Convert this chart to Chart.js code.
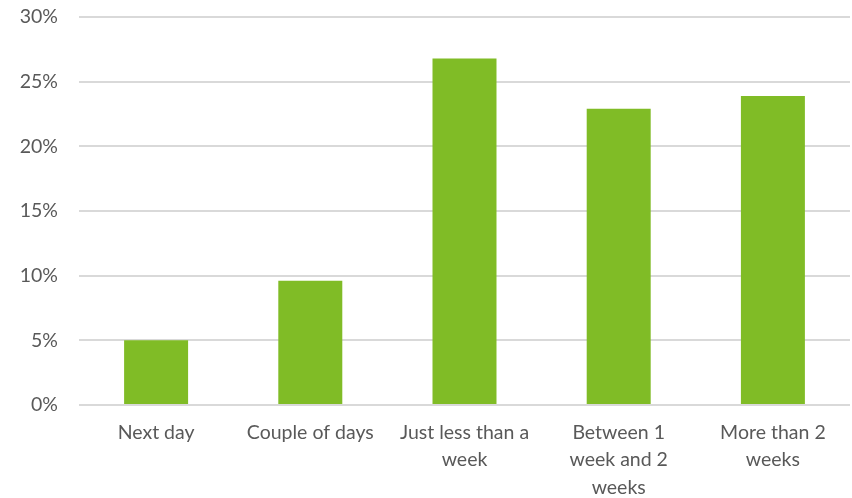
<!DOCTYPE html>
<html>
<head>
<meta charset="utf-8">
<script src="https://cdn.jsdelivr.net/npm/chart.js@4.4.1/dist/chart.umd.min.js"></script>
<style>
  html, body { margin: 0; padding: 0; background: #ffffff; }
  #wrap { width: 852px; height: 498px; }
</style>
</head>
<body>
<div id="wrap"><canvas id="grafico"></canvas></div>
<script>
// categorias e valores (%)
const categorias = [
    ["Next day"],
    ["Couple of days"],
    ["Just less than a", "week"],
    ["Between 1", "week and 2", "weeks"],
    ["More than 2", "weeks"]
];
const valores = [5.0, 9.6, 26.8, 22.9, 23.9];
const ticksY = [0, 5, 10, 15, 20, 25, 30];

const corTexto = "#595959";
const fonte = { family: "Lato, 'Open Sans', sans-serif", size: 19.5 };

new Chart(document.getElementById("grafico"), {
    type: "bar",
    data: {
        labels: categorias,
        datasets: [{
            data: valores,
            backgroundColor: "#80bc26",
            borderWidth: 0,
            categoryPercentage: 1,
            barPercentage: 0.415
        }]
    },
    options: {
        responsive: true,
        maintainAspectRatio: false,
        animation: false,
        layout: { padding: { top: 17, right: 2, left: 0, bottom: 0 } },
        plugins: {
            legend: { display: false },
            tooltip: { enabled: false }
        },
        scales: {
            x: {
                grid: { display: false, drawTicks: false },
                border: { display: false },
                ticks: {
                    color: corTexto,
                    font: { ...fonte, lineHeight: 1.4 },
                    maxRotation: 0,
                    padding: 14
                },
                afterFit: function (s) {
                    s.height = 93;
                    s.paddingLeft = 0;
                    s.paddingRight = 0;
                }
            },
            y: {
                min: 0,
                max: 30,
                afterBuildTicks: function (s) {
                    s.ticks = ticksY.map(v => ({ value: v }));
                },
                grid: { color: "#d9d9d9", lineWidth: 2, drawTicks: false },
                border: { display: false },
                ticks: {
                    color: corTexto,
                    font: fonte,
                    padding: 21,
                    callback: v => v + "%"
                },
                afterFit: function (s) {
                    s.width = 79;
                    s.paddingTop = 0;
                    s.paddingBottom = 0;
                }
            }
        }
    }
});
</script>
</body>
</html>
